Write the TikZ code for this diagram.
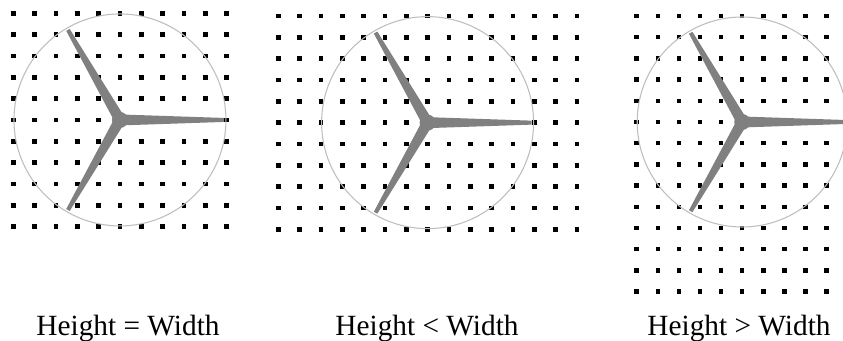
\documentclass[tikz,border=0pt]{standalone}
\usepackage{fontspec}
\setmainfont{Liberation Serif}
\usepackage{tikz}
\usetikzlibrary{positioning}
\definecolor{ringgray}{RGB}{190,190,190}
\definecolor{bladegray}{RGB}{128,128,128}
\tikzset{dot/.style={fill=black},
ring/.style={draw=ringgray,line width=0.8pt},
blade/.style={fill=bladegray},
caption/.style={anchor=base,font=\fontsize{22}{26}\selectfont}}

\begin{document}
\begin{tikzpicture}[x=0.75pt,y=0.75pt]
%\draw[help lines] (0,0) grid (843,341);
\useasboundingbox (0,0) rectangle (843,341);
\clip (0,0) rectangle (843,341);
%
\begin{scope}[shift={(13.3,327.7)}] % square grid
\foreach \i in {0,...,10}
\foreach \j in {0,...,10}
\fill[dot] ({21.33*\i-2.25},{-21.33*\j-2.25}) rectangle ++(4.5,4.5);
\draw[ring] (106.65,-106.65) circle[radius=106];
\foreach \a in {0,120,240}
\fill[blade,shift={(106.65,-106.65)},rotate=\a] (0,5.5)--(104,2)--(104,-2)--(0,-5.5)--cycle;
\fill[blade] (106.65,-106.65) circle[radius=8];
\end{scope}
%
%
\begin{scope}[shift={(278.3,325)}] % wide grid
\foreach \i in {0,...,14}
\foreach \j in {0,...,10}
\fill[dot] ({21.33*\i-2.25},{-21.33*\j-2.25}) rectangle ++(4.5,4.5);
\draw[ring] (149.3,-106.65) circle[radius=106];
\foreach \a in {0,120,240}
\fill[blade,shift={(149.3,-106.65)},rotate=\a] (0,5.5)--(104,2)--(104,-2)--(0,-5.5)--cycle;
\fill[blade] (149.3,-106.65) circle[radius=8];
\end{scope}
%
\begin{scope}[shift={(636.7,325)}] % tall grid
\foreach \i in {0,...,9}
\foreach \j in {0,...,13}
\fill[dot] ({21.1*\i-2.25},{-21.2*\j-2.25}) rectangle ++(4.5,4.5);
\draw[ring] (105.5,-106) circle[radius=105];
\foreach \a in {0,120,240}
\fill[blade,shift={(105.5,-106)},rotate=\a] (0,5.5)--(103,2)--(103,-2)--(0,-5.5)--cycle;
\fill[blade] (105.5,-106) circle[radius=8];
\end{scope}
%
\node[caption] (lab1) at (128,5) {Height = Width};
\node[caption] (lab2) at (427,5) {Height < Width};
\node[caption] (lab3) at (739,5) {Height > Width};
%
\end{tikzpicture}
\end{document}
